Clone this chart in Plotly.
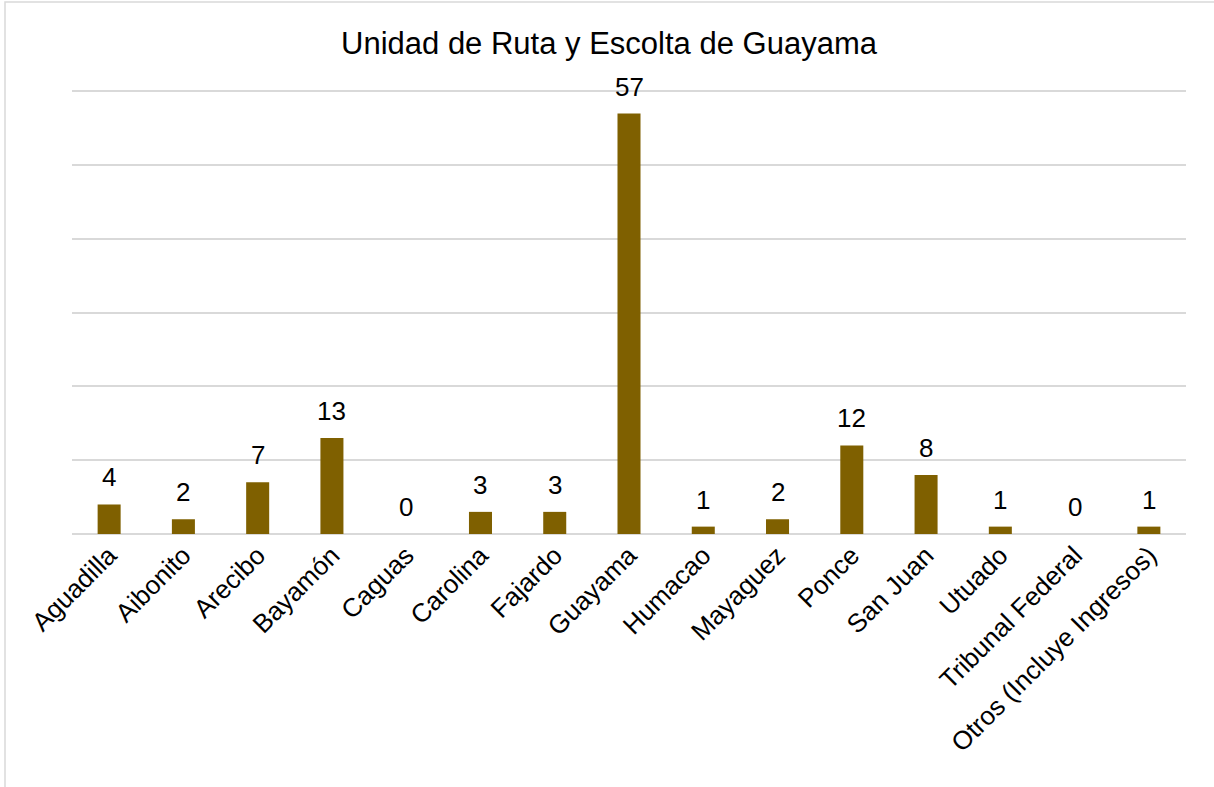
import plotly.graph_objects as go

categorias = ["Aguadilla", "Aibonito", "Arecibo", "Bayamón", "Caguas", "Carolina",
              "Fajardo", "Guayama", "Humacao", "Mayaguez", "Ponce", "San Juan",
              "Utuado", "Tribunal Federal", "Otros (Incluye Ingresos)"]
valores = [4, 2, 7, 13, 0, 3, 3, 57, 1, 2, 12, 8, 1, 0, 1]

titulo = "Unidad de Ruta y Escolta de Guayama"
fuente = "Liberation Sans, Arial, sans-serif"

fig = go.Figure()
fig.add_trace(go.Bar(x=categorias, y=valores, marker_color="#7F6000",
                     marker_line_width=0, width=0.31, hoverinfo="x+y"))

# etiquetas de datos encima de cada barra
for c, v in zip(categorias, valores):
    fig.add_annotation(x=c, y=v, text=str(v), showarrow=False, yanchor="bottom",
                       yshift=10, font=dict(size=26, color="#000000", family=fuente))

# borde del área del gráfico (solo se ven los lados izquierdo y superior)
fig.add_shape(type="rect", xref="paper", yref="paper", x0=(5 - 72) / 1114, x1=1.04,
              y0=-0.7, y1=(534 - 2) / 450, line=dict(color="#D9D9D9", width=1.5),
              fillcolor="rgba(0,0,0,0)", layer="below")

fig.update_layout(
    width=1214, height=787,
    margin=dict(l=72, r=28, t=84, b=253),
    paper_bgcolor="white", plot_bgcolor="white",
    font=dict(family=fuente, color="#000000"),
    title=dict(text=titulo, x=609 / 1214, xanchor="center", y=1 - 43 / 787,
               yanchor="middle", font=dict(size=31, color="#000000", family=fuente)),
    showlegend=False,
    xaxis=dict(tickangle=-45, tickfont=dict(size=26, color="#000000"),
               showgrid=False, showline=False, ticks="", fixedrange=True),
    yaxis=dict(range=[0, 61], dtick=10, showticklabels=False, showgrid=True,
               gridcolor="#D9D9D9", gridwidth=1.5, zeroline=True, zerolinecolor="#D9D9D9",
               zerolinewidth=1.5, showline=False, ticks="", fixedrange=True),
)

fig.write_html("out.html", config={"displayModeBar": False},
               post_script="document.body.style.margin='0';")
